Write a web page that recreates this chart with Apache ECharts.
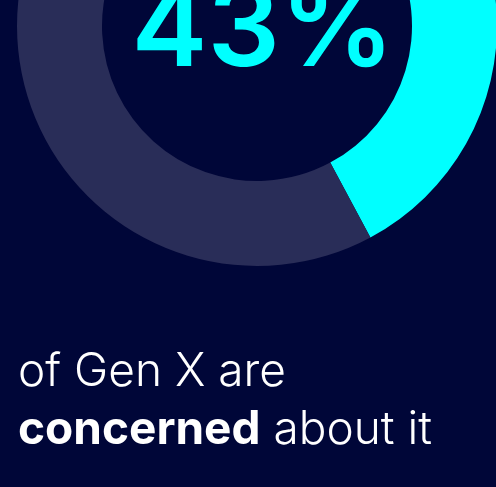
<!DOCTYPE html>
<html>
<head>
<meta charset="utf-8">
<script src="https://cdn.jsdelivr.net/npm/echarts@6/dist/echarts.min.js"></script>
<style>
  html, body { margin: 0; padding: 0; background: #000638; }
  #chart { width: 496px; height: 487px; }
</style>
</head>
<body>
<div id="chart"></div>
<script>
// Share of Gen X who are concerned vs. not
const segments = ['Concerned', 'Not concerned'];
const shares = [43, 57];
const segmentColors = ['#00ffff', '#292d58'];
const captionLine1 = 'of Gen X are';
const captionBold = 'concerned';
const captionRest = ' about it';

const chart = echarts.init(document.getElementById('chart'), null, { renderer: 'canvas' });

const data = segments.map((name, i) => ({
  name,
  value: shares[i],
  itemStyle: { color: segmentColors[i] },
  label: i === 0 ? {
    show: true,
    position: 'center',
    formatter: p => p.value + '%',
    color: '#00ffff',
    fontFamily: 'Inter, "Liberation Sans", sans-serif',
    fontWeight: 600,
    fontSize: 114,
    offset: [6, 6]
  } : { show: false }
}));

chart.setOption({
  backgroundColor: '#000638',
  animation: false,
  series: [{
    type: 'pie',
    center: [257, 26],
    radius: [155, 240],
    startAngle: 93,
    clockwise: true,
    silent: true,
    labelLine: { show: false },
    emphasis: { disabled: true },
    data
  }],
  graphic: [{
    type: 'text',
    left: 18,
    top: 343,
    style: {
      text: captionLine1 + '\n{b|' + captionBold + '}' + captionRest,
      fill: '#ffffff',
      font: '300 46px Inter, "Liberation Sans", sans-serif',
      lineHeight: 58,
      rich: {
        b: {
          fill: '#ffffff',
          fontWeight: 'bold',
          fontSize: 46,
          fontFamily: 'Inter, "Liberation Sans", sans-serif',
          lineHeight: 58
        }
      }
    }
  }]
});
</script>
</body>
</html>
